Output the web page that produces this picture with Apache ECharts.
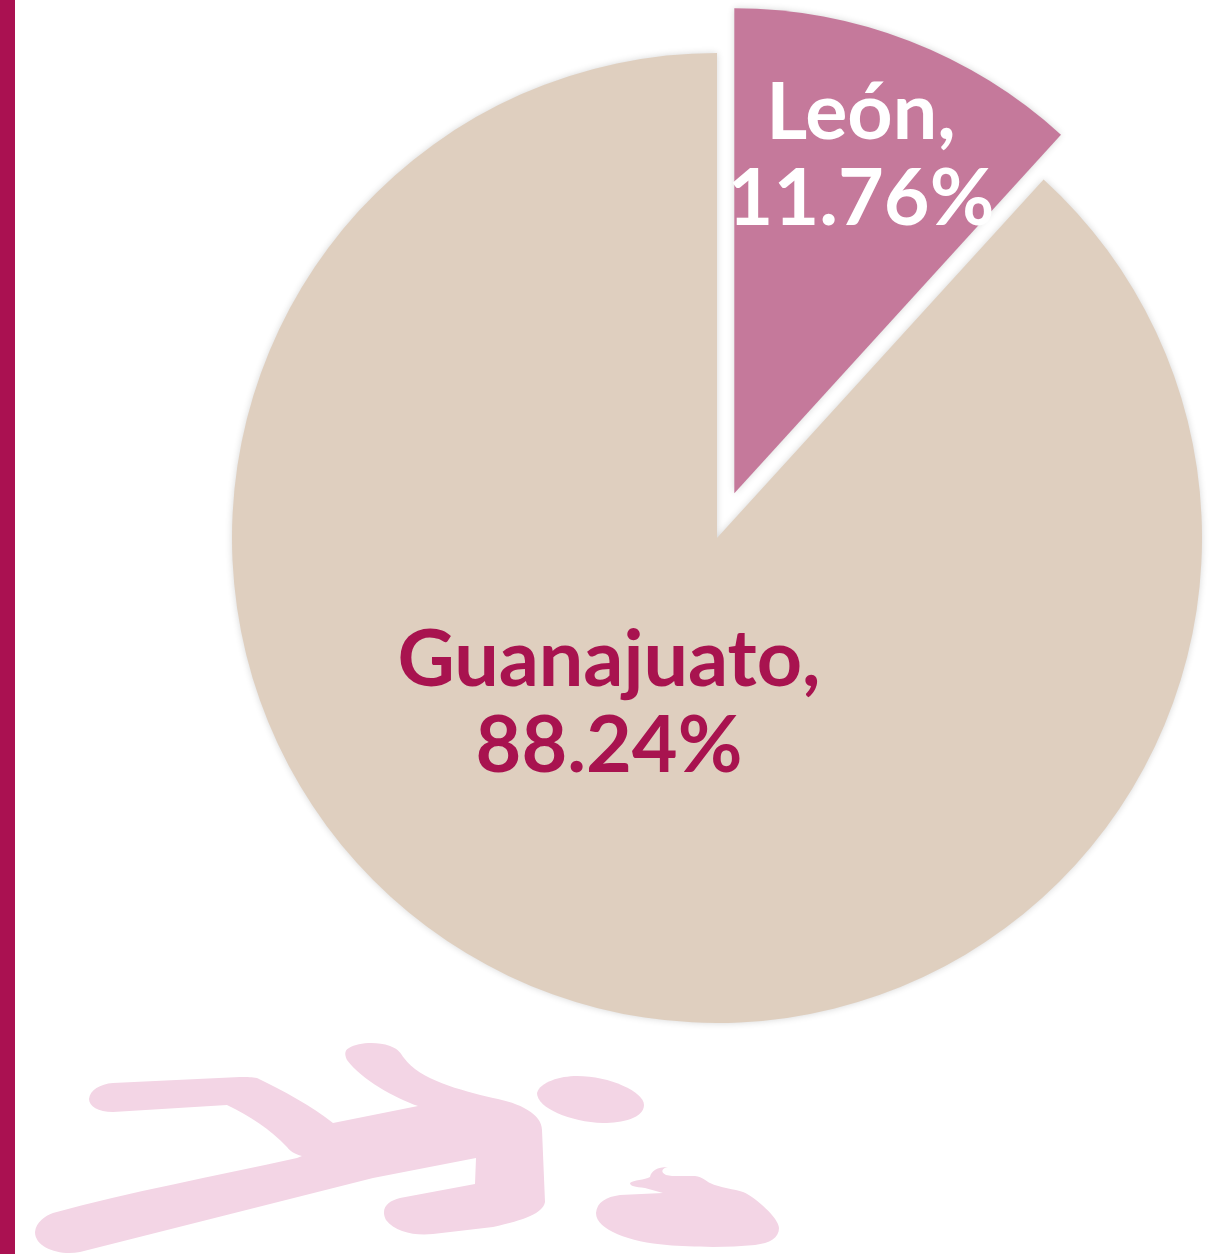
<!DOCTYPE html>
<html>
<head>
<meta charset="utf-8">
<style>html,body{margin:0;padding:0;background:#fff}#c{width:1223px;height:1254px}</style>
<script src="https://cdn.jsdelivr.net/npm/echarts@6/dist/echarts.min.js"></script>
</head>
<body>
<div id="c"></div>
<script>
const categories = ['León', 'Guanajuato'];
const values = [11.76, 88.24];
const sliceColors = ['#C5799B', '#DFCFBF'];
const labelColors = ['#FFFFFF', '#A8134F'];
const labelOffsets = [[38, -108], [0, 0]];
const guanajuatoLabelCentre = [609, 704];

const bodyPath = 'M35 1232 C36 1222 45 1216 53 1213 C130 1192 215 1176 297 1158 L302 1156 C294 1154 290 1151 287 1147 C270 1129 250 1116 227 1105 L113 1112 C98 1112 89 1106 89 1099 C90 1090 100 1084 113 1083 L240 1077 C248 1077 252 1077 257 1078 C282 1090 312 1106 333 1123 L418 1106 C395 1098 362 1080 347 1060 C344 1054 345 1050 349 1048 C358 1043 375 1041 390 1046 C400 1050 400 1053 404 1058 C420 1080 460 1090 493 1098 C520 1103 542 1114 542 1130 L545 1202 C543 1213 525 1220 493 1227 L433 1234 C415 1236 395 1232 386 1220 C380 1208 388 1201 400 1198 L475 1184 L476 1158 L373 1178 L80 1252 C60 1256 35 1248 35 1232 Z';
const headPath = 'M537 1093 C540 1082 560 1076 577 1076 C610 1076 644 1092 644 1105 C644 1118 622 1123 603 1123 C570 1122 537 1108 537 1093 Z';
const bloodPath = 'M596 1213 C597 1202 606 1197 620 1195 L663 1193 L645 1188 C635 1187 630 1186 630 1183 C633 1180 645 1180 650 1177 C651 1171 657 1167 668 1167 C662 1168 660 1172 666 1175 L672 1176 L695 1176 C703 1177 706 1181 710 1183 C720 1188 735 1189 743 1192 C755 1197 779 1218 779 1228 C779 1238 770 1243 755 1245 C725 1248 690 1247 667 1245 C630 1242 596 1230 596 1213 Z';

echarts.graphic.registerShape('figureBody', echarts.graphic.extendPath(bodyPath));
echarts.graphic.registerShape('figureHead', echarts.graphic.extendPath(headPath));
echarts.graphic.registerShape('figureBlood', echarts.graphic.extendPath(bloodPath));

const chart = echarts.init(document.getElementById('c'), null, {renderer: 'canvas'});
chart.setOption({
  animation: false,
  backgroundColor: '#ffffff',
  graphic: {
    elements: [
      {type: 'rect', left: 0, top: 0, z: 0, shape: {width: 15, height: 1254}, style: {fill: '#AA1151'}},
      {type: 'figureBody', z: 0, style: {fill: '#F3D5E5'}},
      {type: 'figureHead', z: 0, style: {fill: '#F3D5E5'}},
      {type: 'figureBlood', z: 0, style: {fill: '#F3D5E5'}}
    ]
  },
  series: [{
    type: 'pie',
    center: [717, 538],
    radius: [0, 485],
    startAngle: 90,
    clockwise: true,
    selectedMode: 'single',
    selectedOffset: 48,
    silent: true,
    itemStyle: {shadowBlur: 7, shadowColor: 'rgba(0,0,0,0.16)'},
    label: {
      show: true,
      position: 'inside',
      fontFamily: 'Lato',
      fontWeight: 700,
      fontSize: 79,
      lineHeight: 86,
      align: 'center',
      verticalAlign: 'middle',
      formatter: p => p.name + ',\n' + p.value.toFixed(2) + '%'
    },
    labelLayout: p => p.dataIndex === 1
      ? {x: guanajuatoLabelCentre[0], y: guanajuatoLabelCentre[1], align: 'center', verticalAlign: 'middle'}
      : {},
    labelLine: {show: false},
    data: categories.map((name, i) => ({
      name,
      value: values[i],
      selected: i === 0,
      itemStyle: {color: sliceColors[i]},
      label: {color: labelColors[i], offset: labelOffsets[i]},
      select: {label: {color: labelColors[i], offset: labelOffsets[i]}}
    }))
  }]
});
</script>
</body>
</html>
